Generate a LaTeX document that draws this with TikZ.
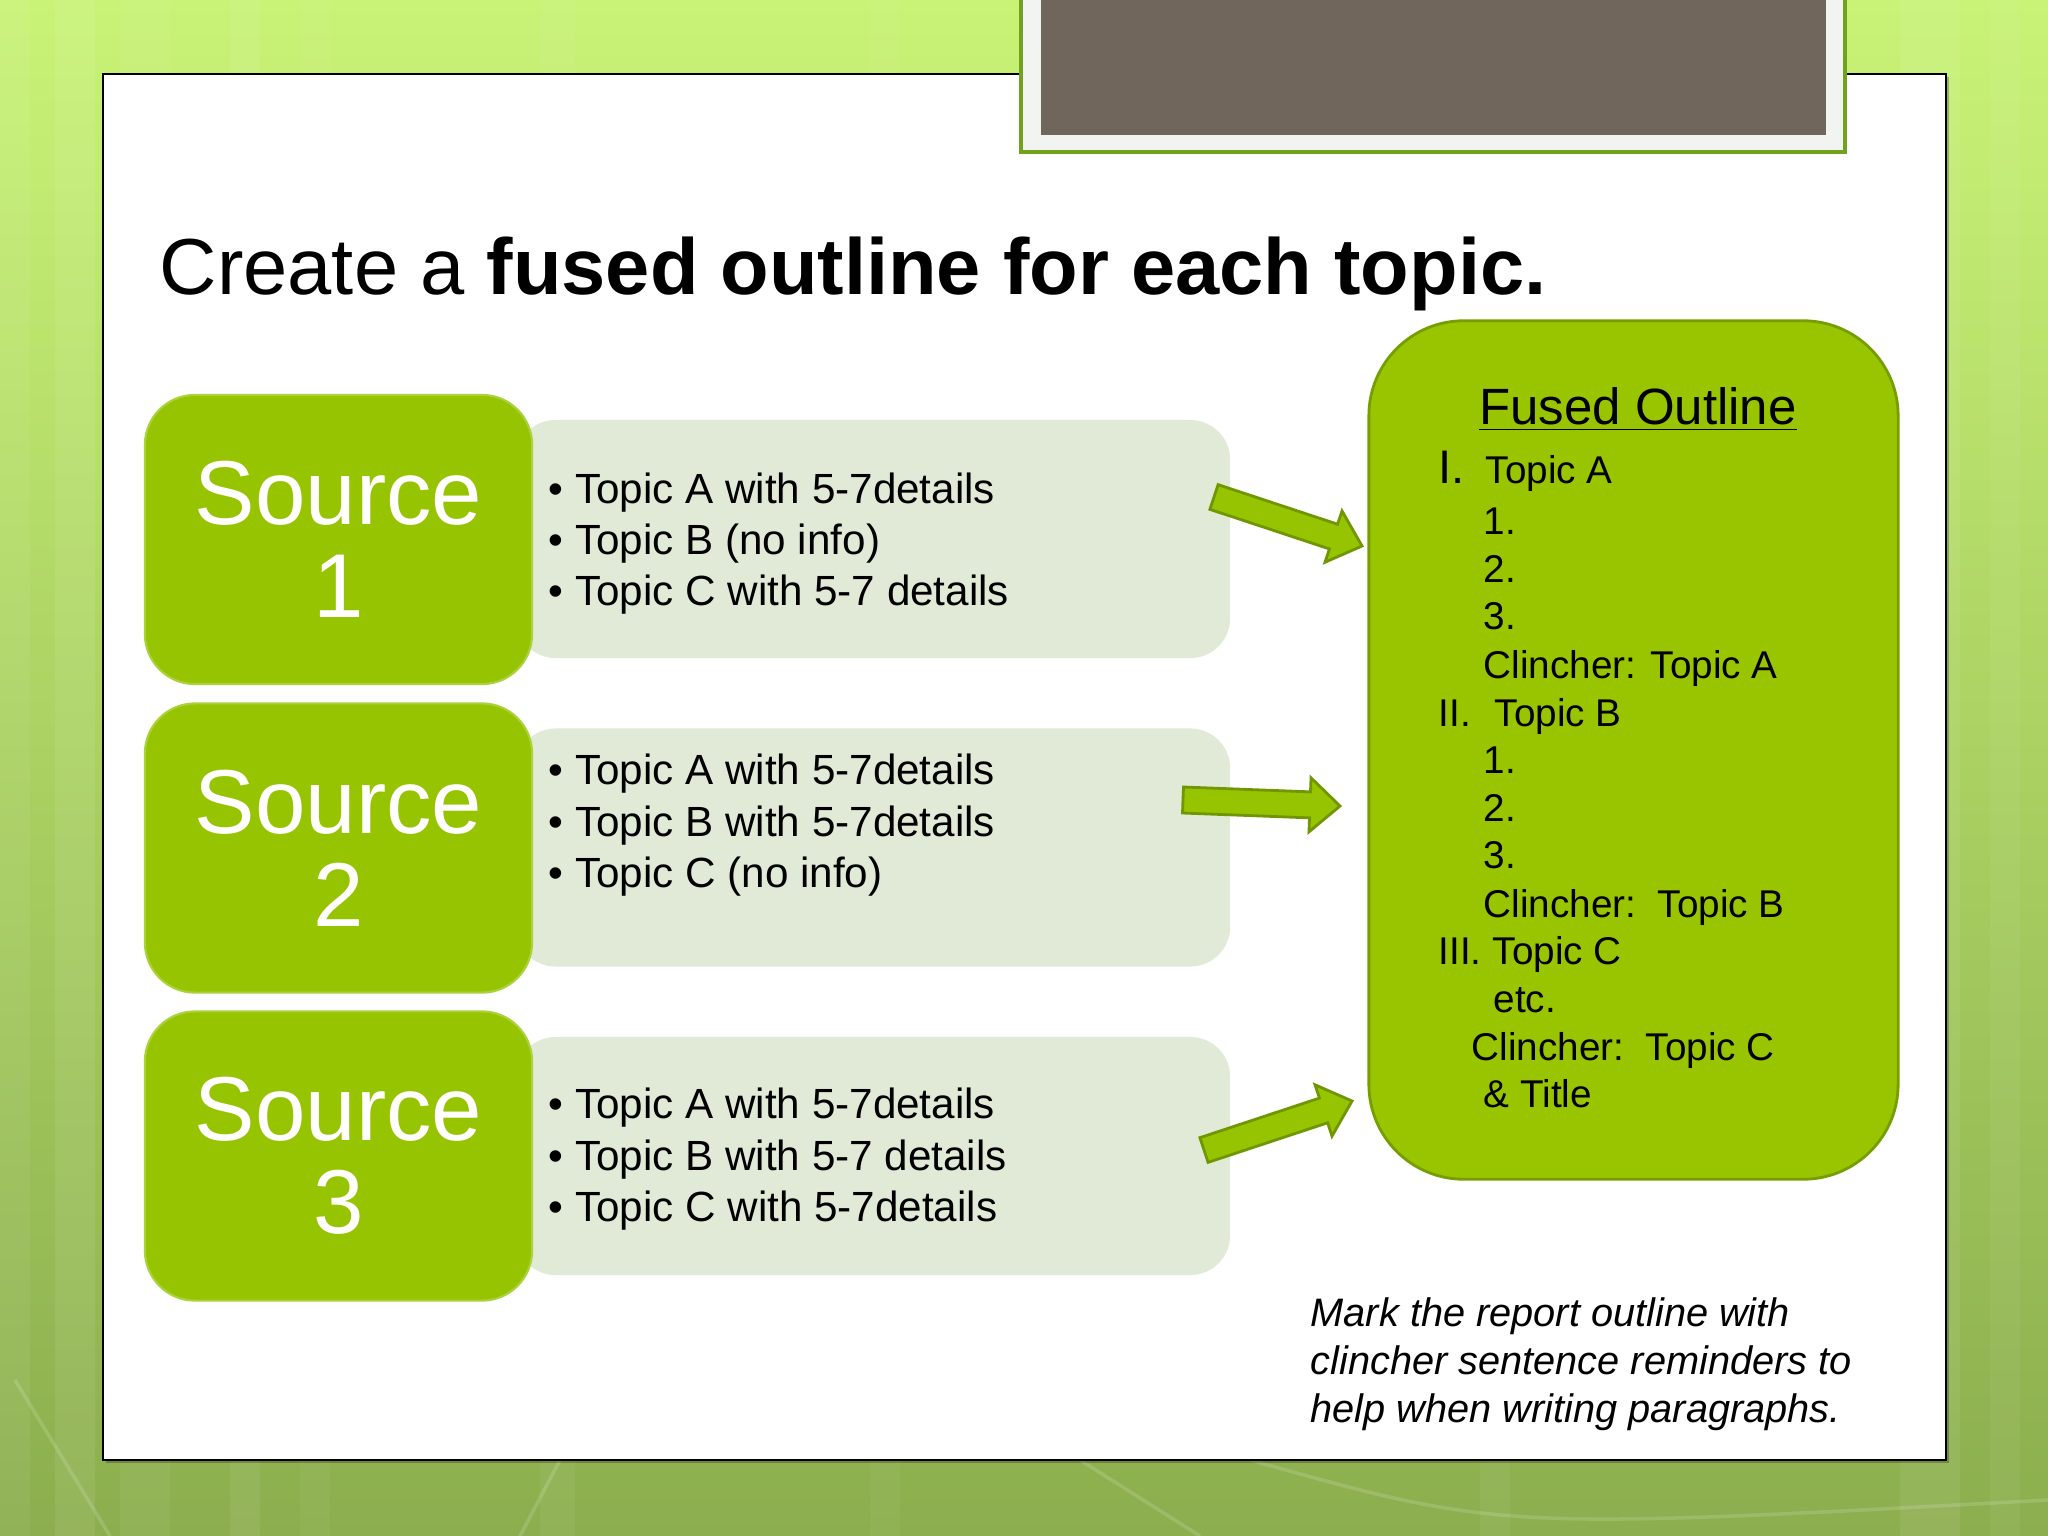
\documentclass[tikz,border=0pt]{standalone}
\usepackage{fontspec}
\setmainfont{Liberation Sans}
\usetikzlibrary{calc}
\definecolor{bgtop}{RGB}{200,243,118}
\definecolor{bgmid}{RGB}{172,214,92}
\definecolor{bgbot}{RGB}{140,174,78}
\definecolor{srcgreen}{RGB}{151,196,0}
\definecolor{srcedge}{RGB}{170,210,60}
\definecolor{lightbox}{RGB}{224,234,214}
\definecolor{fusedfill}{RGB}{153,196,0}
\definecolor{fusededge}{RGB}{118,158,0}
\definecolor{arrowedge}{RGB}{112,150,0}
\definecolor{brownbox}{RGB}{113,102,92}
\definecolor{framegray}{RGB}{242,244,242}
\definecolor{framegreen}{RGB}{112,162,30}
\tikzset{
  srcbox/.style={rectangle, rounded corners=0.5cm, fill=srcgreen, draw=srcedge, line width=0.6pt,
    minimum width=3.87cm, minimum height=2.89cm, text=white, align=center, inner sep=0pt,
    font=\fontsize{25.8}{26.5}\selectfont},
  infobox/.style={rectangle, rounded corners=0.4cm, fill=lightbox, draw=none,
    minimum width=7.14cm, minimum height=2.38cm, inner sep=0pt},
  bullet/.style={anchor=base west, inner sep=0pt, font=\fontsize{12.0}{14}\selectfont},
  outl/.style={anchor=base west, inner sep=0pt, font=\fontsize{11.0}{13}\selectfont},
  note/.style={anchor=base west, inner sep=0pt, font=\fontsize{11.3}{13}\selectfont\itshape},
  blockarrow/.style={fill=srcgreen, draw=arrowedge, line width=0.8pt, line join=miter},
}
\newcommand\blockarrow[3]{%
  \coordinate (#3b) at ($(#2)!0.30cm!(#1)$);
  \draw[blockarrow] ($(#1)!0.13cm!90:(#2)$) -- ($(#3b)!0.13cm!90:(#2)$) -- ($(#3b)!0.27cm!90:(#2)$)
    -- (#2) -- ($(#3b)!0.27cm!-90:(#2)$) -- ($(#3b)!0.13cm!-90:(#2)$) -- ($(#1)!0.13cm!-90:(#2)$) -- cycle;}
\begin{document}
\begin{tikzpicture}[x=0.01cm,y=-0.01cm]
\useasboundingbox (0,0) rectangle (2048,1536);
\clip (0,0) rectangle (2048,1536);
% background
\shade[top color=bgtop, middle color=bgmid, bottom color=bgbot] (0,0) rectangle (2048,1536);
\foreach \a/\b/\o in {0/30/0.06, 55/95/0.08, 120/170/0.05, 230/260/0.07, 300/330/0.04, 540/575/0.05, 870/900/0.04, 1480/1510/0.05, 1900/1960/0.07, 1990/2020/0.05}{
  \fill[white, opacity=\o] (\a,0) rectangle (\b,1536);}
\draw[white, opacity=0.15, line width=1pt] (15,1380) -- (110,1536);
\draw[white, opacity=0.15, line width=1pt] (560,1460) -- (520,1536);
\draw[white, opacity=0.15, line width=1pt] (1080,1460) -- (1200,1536);
\draw[white, opacity=0.15, line width=1pt] (1250,1460) .. controls (1500,1530) .. (2048,1500);
% white panel
\fill[black, opacity=0.25] (106,77) rectangle (1949,1463);
\draw[fill=white, draw=black, line width=0.8pt] (103,74) rectangle (1946,1460);
% top picture frame
\fill[framegray] (1020,-5) rectangle (1846,153);
\draw[framegreen, line width=1.2pt] (1021,-5) -- (1021,152) -- (1845,152) -- (1845,-5);
\fill[brownbox] (1041,-5) rectangle (1826,135);
% title
\node[anchor=base west, inner sep=0pt, font=\fontsize{22.6}{27}\selectfont] (title) at (159,294)
  {Create a \textbf{fused outline for each topic.}};
% info boxes
\node[infobox] (i1) at (873,539) {};
\node[infobox] (i2) at (873,847.5) {};
\node[infobox] (i3) at (873,1156) {};
% source boxes
\node[srcbox] (s1) at (338.5,539.5) {Source\\1};
\node[srcbox] (s2) at (338.5,848) {Source\\2};
\node[srcbox] (s3) at (338.5,1156) {Source\\3};
% bullets
\node[bullet] (b11) at (548,503) {• Topic A with 5-7details};
\node[bullet] (b12) at (548,554) {• Topic B (no info)};
\node[bullet] (b13) at (548,605) {• Topic C with 5-7 details};
\node[bullet] (b21) at (548,784) {• Topic A with 5-7details};
\node[bullet] (b22) at (548,836) {• Topic B with 5-7details};
\node[bullet] (b23) at (548,887) {• Topic C (no info)};
\node[bullet] (b31) at (548,1118) {• Topic A with 5-7details};
\node[bullet] (b32) at (548,1170) {• Topic B with 5-7 details};
\node[bullet] (b33) at (548,1221) {• Topic C with 5-7details};
% fused outline box
\node[rectangle, rounded corners=0.95cm, fill=fusedfill, draw=fusededge, line width=0.8pt,
  minimum width=5.29cm, minimum height=8.58cm] (fused) at (1633.5,750) {};
\node[anchor=base, inner sep=0pt, font=\fontsize{14.5}{17}\selectfont] (ft) at (1638,424) {\underline{Fused Outline}};
\node[anchor=base west, inner sep=0pt, font=\fontsize{13.4}{15}\selectfont] (r1) at (1438,483) {I.};
\node[outl] (o1) at (1485,483) {Topic A};
\node[outl] (o2) at (1483,534) {1.};
\node[outl] (o3) at (1483,582) {2.};
\node[outl] (o4) at (1483,629) {3.};
\node[outl] (o5) at (1483,678) {Clincher: Topic A};
\node[outl] (r2) at (1438,726) {II.};
\node[outl] (o6) at (1494,726) {Topic B};
\node[outl] (o7) at (1483,773) {1.};
\node[outl] (o8) at (1483,821) {2.};
\node[outl] (o9) at (1483,868) {3.};
\node[outl] (o10) at (1483,917) {Clincher:\ \ Topic B};
\node[outl] (r3) at (1438,964) {III.};
\node[outl] (o11) at (1492,964) {Topic C};
\node[outl] (o12) at (1493,1012) {etc.};
\node[outl] (o13) at (1471,1060) {Clincher:\ \ Topic C};
\node[outl] (o14) at (1483,1107) {\& Title};
% arrows
\coordinate (a1t) at (1214,497); \coordinate (a1h) at (1362,546);
\coordinate (a2t) at (1183,800); \coordinate (a2h) at (1340,806);
\coordinate (a3t) at (1204,1150); \coordinate (a3h) at (1352,1101);
\blockarrow{a1t}{a1h}{a1}
\blockarrow{a2t}{a2h}{a2}
\blockarrow{a3t}{a3h}{a3}
% note
\node[note] (n1) at (1310,1326) {Mark the report outline with};
\node[note] (n2) at (1310,1374) {clincher sentence reminders to};
\node[note] (n3) at (1310,1422) {help when writing paragraphs.};
\end{tikzpicture}
\end{document}
